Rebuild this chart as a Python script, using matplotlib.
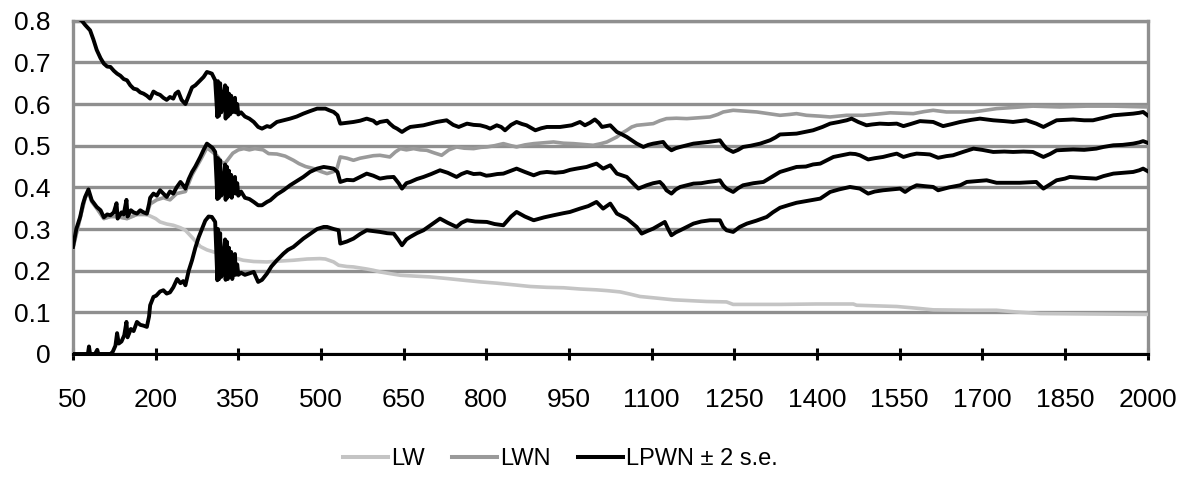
import matplotlib
matplotlib.use("Agg")
import matplotlib.pyplot as plt
from matplotlib.lines import Line2D

plt.rcParams['font.family'] = ['Liberation Sans', 'DejaVu Sans']

# values
x_ticks = [50, 200, 350, 500, 650, 800, 950, 1100, 1250, 1400, 1550, 1700, 1850, 2000]
y_ticks = [0, 0.1, 0.2, 0.3, 0.4, 0.5, 0.6, 0.7, 0.8]
y_labels = ['0', '0.1', '0.2', '0.3', '0.4', '0.5', '0.6', '0.7', '0.8']
legend_labels = ['LW', 'LWN', 'LPWN ± 2 s.e.']

# LPWN (middle black line)
mid_x = [50, 56, 63, 68, 72, 78, 84, 93, 100, 106, 112, 118, 124, 129, 131, 138, 142, 147, 149, 155,
         160, 166, 172, 178, 184, 188, 190, 196, 202, 208, 214, 220, 226, 232, 238, 245, 250, 254, 260, 266,
         272, 281, 287, 293, 298, 303, 308, 312, 313, 315, 317, 319, 322, 326, 327, 329, 330, 333, 334, 337,
         338, 344, 345, 348, 350, 355, 362, 370, 378, 386, 393, 402, 408, 420, 432, 444, 456, 468, 480, 493,
         505, 515, 523, 530, 535, 547, 559, 571, 583, 595, 607, 620, 632, 641, 647, 655, 662, 674, 686, 700,
         716, 730, 746, 755, 765, 777, 789, 800, 807, 820, 831, 845, 855, 870, 886, 898, 910, 925, 940, 952,
         964, 982, 1000, 1012, 1025, 1037, 1055, 1066, 1076, 1091, 1103, 1115, 1121, 1127, 1136, 1144, 1152, 1164, 1176, 1190,
         1203, 1215, 1224, 1230, 1236, 1248, 1257, 1266, 1285, 1303, 1318, 1333, 1348, 1363, 1380, 1393, 1406, 1418, 1430, 1445,
         1460, 1470, 1478, 1493, 1505, 1520, 1535, 1545, 1557, 1570, 1581, 1595, 1605, 1620, 1635, 1647, 1665, 1684, 1700, 1720,
         1740, 1756, 1775, 1792, 1800, 1811, 1823, 1835, 1850, 1865, 1885, 1907, 1920, 1938, 1955, 1974, 1985, 1992, 2000]
mid_y = [0.257, 0.30, 0.329, 0.36, 0.377, 0.395, 0.369, 0.353, 0.345, 0.328, 0.335, 0.333, 0.34, 0.362, 0.325, 0.34, 0.335, 0.37, 0.33, 0.345,
         0.34, 0.337, 0.345, 0.34, 0.337, 0.36, 0.375, 0.385, 0.38, 0.393, 0.385, 0.377, 0.39, 0.385, 0.40, 0.413, 0.405, 0.397, 0.42, 0.437,
         0.45, 0.473, 0.49, 0.505, 0.50, 0.495, 0.485, 0.372, 0.47, 0.375, 0.465, 0.38, 0.40, 0.455, 0.37, 0.45, 0.375, 0.44, 0.38, 0.43,
         0.375, 0.425, 0.385, 0.41, 0.38, 0.39, 0.375, 0.372, 0.365, 0.357, 0.357, 0.365, 0.369, 0.383, 0.393, 0.405, 0.415, 0.425, 0.437, 0.445,
         0.449, 0.447, 0.445, 0.437, 0.413, 0.418, 0.417, 0.425, 0.433, 0.428, 0.421, 0.424, 0.425, 0.41, 0.397, 0.41, 0.413, 0.42, 0.425, 0.432,
         0.441, 0.435, 0.425, 0.432, 0.437, 0.432, 0.433, 0.428, 0.429, 0.432, 0.433, 0.44, 0.445, 0.437, 0.429, 0.435, 0.437, 0.435, 0.437, 0.442,
         0.445, 0.449, 0.457, 0.445, 0.453, 0.433, 0.425, 0.41, 0.397, 0.405, 0.41, 0.413, 0.405, 0.393, 0.385, 0.395, 0.401, 0.405, 0.409, 0.41,
         0.413, 0.415, 0.417, 0.405, 0.397, 0.389, 0.398, 0.405, 0.41, 0.413, 0.425, 0.437, 0.443, 0.449, 0.45, 0.455, 0.457, 0.465, 0.473, 0.477,
         0.481, 0.48, 0.477, 0.467, 0.47, 0.473, 0.478, 0.481, 0.473, 0.478, 0.481, 0.48, 0.479, 0.471, 0.475, 0.477, 0.485, 0.493, 0.49, 0.485,
         0.486, 0.485, 0.486, 0.485, 0.48, 0.473, 0.48, 0.489, 0.49, 0.491, 0.49, 0.493, 0.497, 0.501, 0.502, 0.505, 0.508, 0.511, 0.507]

# LPWN + 2 s.e.
up_x = [50, 56, 60, 66, 72, 81, 87, 93, 100, 106, 112, 118, 124, 130, 136, 142, 148, 154, 160, 166,
        172, 178, 184, 190, 196, 202, 208, 214, 220, 226, 232, 236, 241, 247, 254, 260, 266, 272, 281, 287,
        293, 298, 302, 308, 312, 313, 315, 317, 319, 322, 326, 327, 329, 331, 333, 335, 337, 339, 344, 345,
        348, 350, 355, 362, 370, 378, 386, 393, 402, 408, 420, 432, 444, 456, 468, 480, 493, 508, 515, 523,
        530, 535, 547, 559, 571, 583, 595, 601, 607, 620, 625, 632, 638, 647, 655, 662, 674, 686, 698, 710,
        728, 740, 750, 765, 777, 789, 800, 807, 819, 827, 834, 845, 855, 865, 873, 889, 900, 910, 922, 934,
        945, 955, 970, 979, 988, 997, 1004, 1010, 1025, 1037, 1045, 1055, 1073, 1085, 1094, 1103, 1121, 1128, 1136, 1144,
        1152, 1164, 1176, 1190, 1203, 1224, 1230, 1236, 1248, 1257, 1266, 1280, 1297, 1315, 1325, 1333, 1348, 1363, 1378, 1393,
        1410, 1424, 1440, 1454, 1463, 1475, 1490, 1500, 1514, 1530, 1545, 1557, 1570, 1587, 1600, 1611, 1629, 1645, 1660, 1680,
        1696, 1720, 1740, 1756, 1780, 1798, 1811, 1823, 1835, 1850, 1865, 1885, 1901, 1920, 1938, 1955, 1974, 1985, 1992, 2000]
up_y = [0.86, 0.83, 0.805, 0.80, 0.79, 0.777, 0.755, 0.73, 0.71, 0.697, 0.69, 0.689, 0.68, 0.673, 0.668, 0.66, 0.657, 0.645, 0.637, 0.635,
        0.628, 0.625, 0.62, 0.613, 0.63, 0.625, 0.622, 0.615, 0.61, 0.617, 0.613, 0.625, 0.63, 0.61, 0.60, 0.62, 0.64, 0.645, 0.657, 0.665,
        0.677, 0.675, 0.673, 0.657, 0.569, 0.655, 0.572, 0.65, 0.58, 0.61, 0.645, 0.565, 0.64, 0.57, 0.625, 0.575, 0.62, 0.58, 0.615, 0.58,
        0.60, 0.575, 0.58, 0.57, 0.565, 0.557, 0.545, 0.541, 0.547, 0.545, 0.557, 0.561, 0.565, 0.57, 0.577, 0.583, 0.589, 0.589, 0.585, 0.581,
        0.573, 0.553, 0.555, 0.557, 0.56, 0.565, 0.56, 0.553, 0.557, 0.56, 0.553, 0.545, 0.541, 0.533, 0.54, 0.545, 0.547, 0.549, 0.553, 0.557,
        0.561, 0.55, 0.545, 0.553, 0.55, 0.549, 0.545, 0.541, 0.549, 0.545, 0.537, 0.55, 0.557, 0.552, 0.549, 0.537, 0.542, 0.545, 0.545, 0.545,
        0.547, 0.549, 0.557, 0.549, 0.555, 0.563, 0.555, 0.545, 0.549, 0.533, 0.528, 0.521, 0.505, 0.497, 0.502, 0.505, 0.509, 0.497, 0.489, 0.494,
        0.497, 0.501, 0.505, 0.507, 0.509, 0.513, 0.502, 0.493, 0.485, 0.49, 0.497, 0.50, 0.505, 0.513, 0.52, 0.527, 0.528, 0.529, 0.533, 0.537,
        0.545, 0.553, 0.557, 0.561, 0.565, 0.557, 0.549, 0.551, 0.553, 0.552, 0.553, 0.547, 0.552, 0.559, 0.558, 0.557, 0.547, 0.552, 0.557, 0.562,
        0.565, 0.561, 0.559, 0.557, 0.561, 0.553, 0.545, 0.553, 0.561, 0.562, 0.563, 0.561, 0.561, 0.567, 0.573, 0.575, 0.577, 0.579, 0.581, 0.573]

# LPWN - 2 s.e.
lo_x = [50, 60, 70, 77, 79, 81, 90, 94, 96, 110, 118, 122, 127, 130, 133, 138, 143, 147, 149, 155,
        160, 166, 172, 178, 184, 188, 190, 196, 201, 208, 214, 220, 226, 232, 239, 245, 250, 254, 260, 266,
        272, 278, 284, 290, 296, 302, 308, 312, 313, 315, 317, 319, 322, 326, 327, 329, 331, 333, 335, 337,
        339, 344, 345, 348, 350, 355, 362, 369, 378, 386, 393, 402, 410, 420, 432, 440, 450, 459, 468, 480,
        493, 505, 511, 523, 532, 535, 547, 559, 571, 583, 595, 607, 620, 632, 640, 647, 655, 662, 674, 686,
        700, 716, 730, 746, 755, 765, 780, 801, 815, 831, 845, 855, 870, 886, 905, 922, 940, 952, 970, 985,
        1000, 1012, 1025, 1037, 1055, 1073, 1082, 1092, 1103, 1124, 1130, 1136, 1144, 1152, 1164, 1176, 1190, 1206, 1224, 1230,
        1236, 1248, 1260, 1273, 1290, 1309, 1320, 1333, 1350, 1363, 1380, 1393, 1406, 1424, 1440, 1460, 1478, 1493, 1505, 1520,
        1535, 1551, 1560, 1570, 1581, 1595, 1611, 1620, 1640, 1660, 1672, 1690, 1708, 1726, 1745, 1768, 1785, 1798, 1811, 1823,
        1835, 1850, 1859, 1880, 1907, 1920, 1938, 1955, 1974, 1985, 1992, 2000]
lo_y = [0.0, 0.0, 0.0, 0.0, 0.018, 0.0, 0.0, 0.01, 0.0, 0.0, 0.0, 0.005, 0.02, 0.05, 0.025, 0.03, 0.045, 0.077, 0.04, 0.06,
        0.055, 0.077, 0.07, 0.068, 0.065, 0.09, 0.117, 0.137, 0.14, 0.15, 0.153, 0.145, 0.148, 0.16, 0.18, 0.17, 0.175, 0.165, 0.20, 0.225,
        0.255, 0.28, 0.30, 0.32, 0.33, 0.329, 0.317, 0.177, 0.30, 0.18, 0.29, 0.185, 0.22, 0.275, 0.178, 0.27, 0.18, 0.255, 0.185, 0.245,
        0.18, 0.24, 0.19, 0.215, 0.19, 0.195, 0.19, 0.193, 0.197, 0.173, 0.178, 0.193, 0.21, 0.225, 0.241, 0.25, 0.257, 0.267, 0.277, 0.288,
        0.30, 0.305, 0.305, 0.30, 0.297, 0.265, 0.27, 0.277, 0.288, 0.297, 0.295, 0.293, 0.29, 0.289, 0.275, 0.261, 0.275, 0.281, 0.29, 0.297,
        0.31, 0.325, 0.315, 0.305, 0.315, 0.321, 0.318, 0.317, 0.312, 0.309, 0.33, 0.341, 0.33, 0.321, 0.328, 0.333, 0.338, 0.341, 0.349, 0.355,
        0.365, 0.349, 0.361, 0.337, 0.325, 0.305, 0.289, 0.295, 0.301, 0.317, 0.30, 0.285, 0.292, 0.297, 0.305, 0.313, 0.318, 0.321, 0.321, 0.305,
        0.297, 0.293, 0.305, 0.313, 0.32, 0.329, 0.34, 0.351, 0.358, 0.363, 0.367, 0.37, 0.373, 0.389, 0.395, 0.401, 0.397, 0.385, 0.39, 0.393,
        0.395, 0.397, 0.389, 0.398, 0.405, 0.403, 0.401, 0.393, 0.40, 0.405, 0.413, 0.415, 0.417, 0.411, 0.411, 0.411, 0.412, 0.413, 0.397, 0.407,
        0.417, 0.421, 0.425, 0.423, 0.421, 0.427, 0.433, 0.435, 0.437, 0.441, 0.445, 0.439]

# LWN (mid grey)
lwn_x = [50, 63, 72, 78, 84, 93, 106, 118, 130, 148, 166, 184, 190, 202, 214, 226, 238, 254, 266, 281,
         293, 303, 312, 320, 326, 333, 340, 350, 360, 370, 380, 395, 405, 420, 435, 450, 460, 472, 487, 500,
         511, 523, 529, 535, 547, 559, 571, 583, 595, 607, 625, 635, 644, 655, 668, 680, 692, 705, 719, 732,
         746, 760, 777, 790, 801, 815, 831, 845, 855, 870, 886, 905, 922, 940, 958, 975, 994, 1008, 1019, 1028,
         1037, 1046, 1055, 1064, 1073, 1088, 1103, 1115, 1127, 1145, 1164, 1185, 1206, 1220, 1230, 1248, 1270, 1291, 1312, 1333,
         1350, 1363, 1381, 1405, 1424, 1440, 1454, 1484, 1510, 1533, 1555, 1575, 1595, 1611, 1635, 1660, 1684, 1705, 1726, 1760,
         1792, 1815, 1841, 1865, 1889, 1915, 1938, 1970, 2000]
lwn_y = [0.255, 0.327, 0.375, 0.39, 0.366, 0.35, 0.325, 0.33, 0.33, 0.325, 0.335, 0.335, 0.36, 0.37, 0.375, 0.37, 0.385, 0.39, 0.43, 0.465,
         0.495, 0.485, 0.475, 0.46, 0.458, 0.47, 0.482, 0.49, 0.493, 0.49, 0.493, 0.49, 0.481, 0.48, 0.475, 0.465, 0.457, 0.45, 0.445, 0.438,
         0.433, 0.438, 0.445, 0.473, 0.47, 0.465, 0.47, 0.473, 0.476, 0.477, 0.473, 0.485, 0.493, 0.49, 0.493, 0.49, 0.489, 0.483, 0.477, 0.49,
         0.497, 0.494, 0.493, 0.496, 0.497, 0.50, 0.505, 0.50, 0.497, 0.502, 0.505, 0.507, 0.509, 0.506, 0.505, 0.503, 0.501, 0.505, 0.509, 0.515,
         0.521, 0.53, 0.537, 0.545, 0.549, 0.551, 0.553, 0.56, 0.565, 0.566, 0.565, 0.567, 0.569, 0.575, 0.581, 0.585, 0.583, 0.581, 0.577, 0.573,
         0.575, 0.577, 0.573, 0.571, 0.569, 0.571, 0.573, 0.573, 0.576, 0.579, 0.578, 0.577, 0.582, 0.585, 0.581, 0.581, 0.581, 0.585, 0.589, 0.592,
         0.595, 0.594, 0.593, 0.594, 0.595, 0.595, 0.595, 0.594, 0.593]

# LW (light grey)
lw_x = [50, 63, 72, 78, 84, 93, 106, 118, 130, 148, 166, 180, 187, 200, 208, 220, 232, 245, 254, 266,
        281, 293, 305, 317, 330, 345, 359, 378, 402, 425, 450, 475, 498, 508, 523, 532, 547, 559, 583, 595,
        607, 625, 644, 670, 698, 730, 759, 790, 819, 850, 880, 910, 940, 970, 1000, 1020, 1043, 1060, 1079, 1110,
        1140, 1170, 1200, 1236, 1248, 1300, 1333, 1400, 1466, 1472, 1545, 1580, 1611, 1680, 1726, 1760, 1805, 1900, 2000]
lw_y = [0.255, 0.327, 0.375, 0.39, 0.366, 0.35, 0.325, 0.33, 0.33, 0.325, 0.335, 0.335, 0.333, 0.325, 0.317, 0.312, 0.309, 0.303, 0.297, 0.28,
        0.258, 0.25, 0.245, 0.241, 0.237, 0.23, 0.225, 0.222, 0.221, 0.223, 0.225, 0.228, 0.229, 0.228, 0.221, 0.213, 0.21, 0.209, 0.204, 0.201,
        0.197, 0.193, 0.189, 0.187, 0.185, 0.181, 0.177, 0.173, 0.17, 0.166, 0.162, 0.16, 0.159, 0.156, 0.154, 0.152, 0.149, 0.144, 0.138, 0.134,
        0.13, 0.128, 0.126, 0.125, 0.119, 0.119, 0.119, 0.12, 0.12, 0.117, 0.114, 0.11, 0.106, 0.105, 0.105, 0.101, 0.097, 0.096, 0.095]

grid_col = '#8f8f8f'
lw_col = '#c4c4c4'
lwn_col = '#9a9a9a'

fig = plt.figure(figsize=(11.91, 4.79), dpi=100)
ax = fig.add_axes([0.0613, 0.261, 0.9022, 0.6957])

ax.plot(lw_x, lw_y, color=lw_col, lw=2.6, zorder=3)
ax.plot(lwn_x, lwn_y, color=lwn_col, lw=2.6, zorder=4)
for xs, ys in [(mid_x, mid_y), (up_x, up_y), (lo_x, lo_y)]:
    ax.plot(xs, ys, color='black', lw=2.8, zorder=5)

ax.set_xlim(50, 2000)
ax.set_ylim(0, 0.8)
ax.set_xticks(x_ticks)
ax.set_xticklabels([str(v) for v in x_ticks])
ax.set_yticks(y_ticks)
ax.set_yticklabels(y_labels)
ax.yaxis.grid(True, color=grid_col, lw=2.4, zorder=1)
ax.set_axisbelow(True)

for side in ['left', 'right', 'top']:
    ax.spines[side].set_color(grid_col)
    ax.spines[side].set_linewidth(2.4)
ax.spines['bottom'].set_color('black')
ax.spines['bottom'].set_linewidth(2.2)
ax.spines['bottom'].set_zorder(6)

ax.tick_params(axis='x', direction='inout', length=9, width=2.2, color='black',
               labelsize=19, pad=20)
ax.tick_params(axis='y', length=0, labelsize=19, pad=16)

handles = [Line2D([], [], color=lw_col, lw=2.9),
           Line2D([], [], color=lwn_col, lw=2.9),
           Line2D([], [], color='black', lw=2.9)]
fig.legend(handles, legend_labels, loc='center', bbox_to_anchor=(0.4706, 0.041), ncol=3,
           frameon=False, fontsize=17, handlelength=1.9, handletextpad=0.15, columnspacing=1.15)

fig.savefig('out.png', dpi=100)
